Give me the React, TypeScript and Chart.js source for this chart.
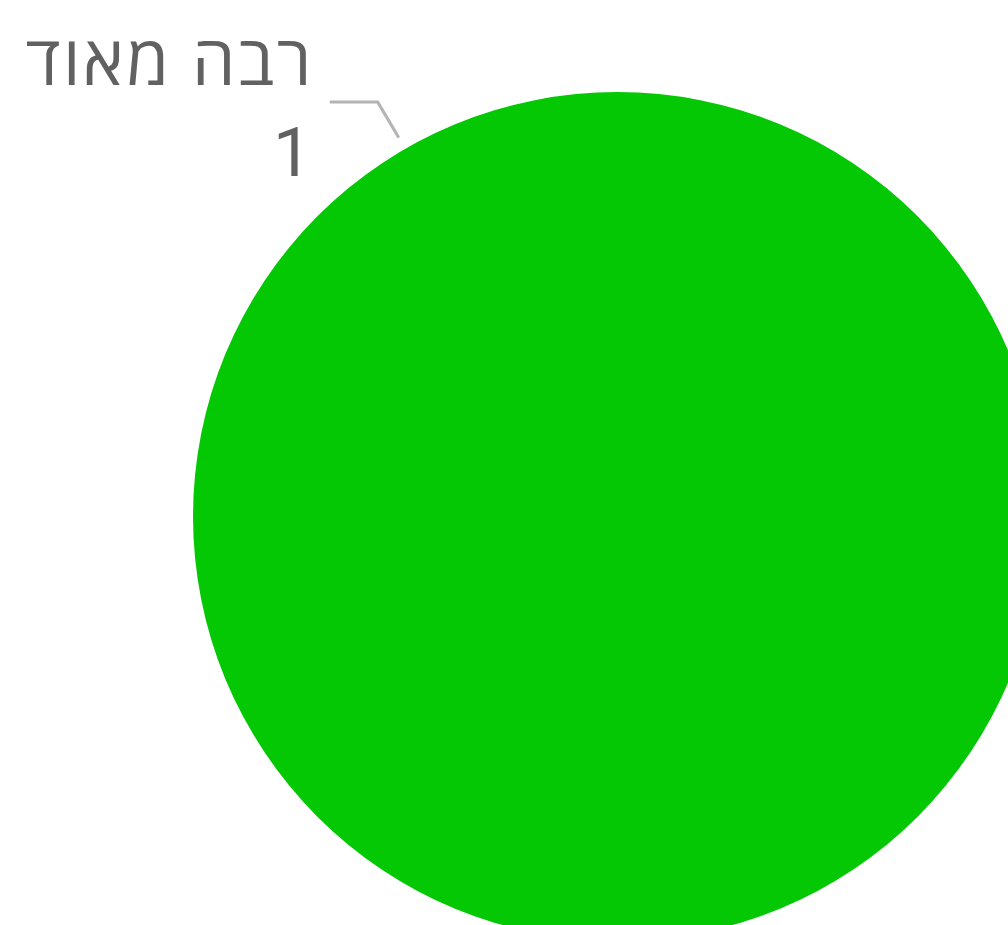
import React, { useEffect, useRef } from "react";
import { Chart, registerables } from "chart.js";

Chart.register(...registerables);

const categories: string[] = ["רבה מאוד"];
const values: number[] = [1];
const colors: string[] = ["#04c804"];

const labelPlugin = {
  id: "outerLabels",
  afterDraw(chart: any) {
    const meta = chart.getDatasetMeta(0);
    const ctx = chart.ctx as any;
    meta.data.forEach((arc: any, i: number) => {
      const { x, y, outerRadius } = arc.getProps(["x", "y", "outerRadius"], true);
      const ang = -Math.PI / 2 - Math.PI / 6;
      const r1 = outerRadius + 13;
      const p1x = x + Math.cos(ang) * r1;
      const p1y = y + Math.sin(ang) * r1;
      const p2x = p1x - 21;
      const p2y = p1y - 35.5;
      const p3x = p2x - 48;
      ctx.save();
      ctx.strokeStyle = "#b4b4b4";
      ctx.lineWidth = 3;
      ctx.beginPath();
      ctx.moveTo(p1x, p1y);
      ctx.lineTo(p2x, p2y);
      ctx.lineTo(p3x, p2y);
      ctx.stroke();
      ctx.fillStyle = "#616161";
      ctx.textAlign = "right";
      ctx.textBaseline = "alphabetic";
      const tx = p3x - 21;
      ctx.font = '69px "Open Sans", sans-serif';
      ctx.letterSpacing = "2.6px";
      ctx.fillText(chart.data.labels[i], tx + 5, p2y - 17.5);
      ctx.letterSpacing = "0px";
      ctx.font = '69px Roboto, "Open Sans", sans-serif';
      ctx.fillText(String(chart.data.datasets[0].data[i]), tx + 3, p2y + 74);
      ctx.restore();
    });
  },
};

export default function App() {
  const ref = useRef<HTMLCanvasElement | null>(null);
  useEffect(() => {
    if (!ref.current) return;
    const chart = new Chart(ref.current, {
      type: "pie",
      data: {
        labels: categories,
        datasets: [
          {
            data: values,
            backgroundColor: colors,
            borderWidth: 0,
            hoverOffset: 0,
          },
        ],
      },
      options: {
        responsive: false,
        animation: false,
        devicePixelRatio: 1,
        events: [],
        layout: { padding: { left: 193, right: 193, top: 92, bottom: 92 } },
        plugins: {
          legend: { display: false },
          tooltip: { enabled: false },
        },
      },
      plugins: [labelPlugin],
    });
    return () => chart.destroy();
  }, []);
  return (
    <div
      style={{
        position: "fixed",
        left: 0,
        top: 0,
        width: 1008,
        height: 925,
        overflow: "hidden",
        background: "#ffffff",
      }}
    >
      <canvas ref={ref} width={1235} height={1033} style={{ display: "block" }} />
    </div>
  );
}
